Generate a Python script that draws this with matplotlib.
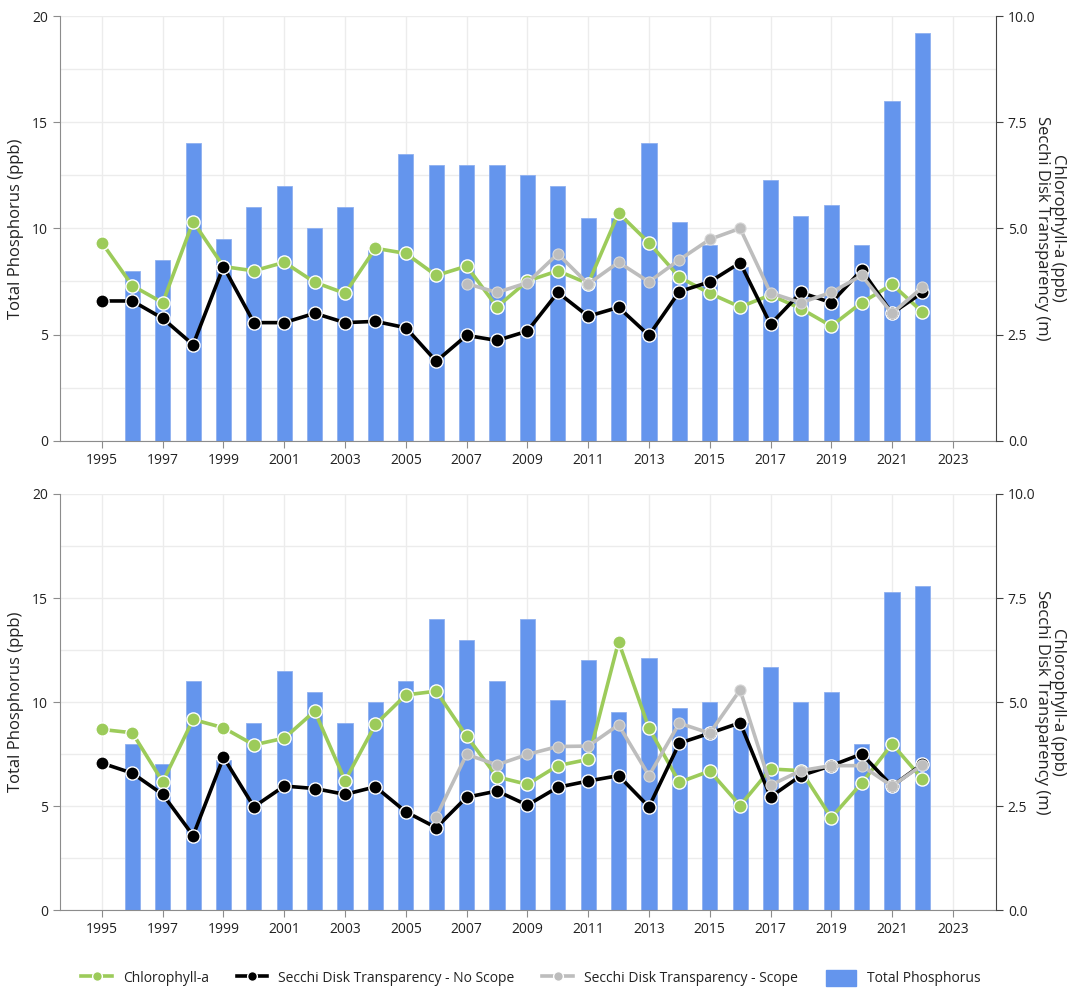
import numpy as np
import matplotlib
matplotlib.use("Agg")
import matplotlib.pyplot as plt
from matplotlib.lines import Line2D
from matplotlib.patches import Patch

plt.rcParams['font.family'] = ['Open Sans', 'DejaVu Sans']

nan = np.nan
years = np.arange(1995, 2023)

# top panel
tp_top = [nan, 8.0, 8.5, 14.0, 9.5, 11.0, 12.0, 10.0, 11.0, 9.0, 13.5, 13.0, 13.0, 13.0,
          12.5, 12.0, 10.5, 10.5, 14.0, 10.3, 9.2, 8.2, 12.3, 10.6, 11.1, 9.2, 16.0, 19.2]
chl_top = [4.66, 3.65, 3.25, 5.16, 4.1, 4.0, 4.2, 3.73, 3.47, 4.53, 4.41, 3.89, 4.11, 3.15,
           3.76, 4.0, 3.70, 5.36, 4.66, 3.85, 3.47, 3.15, 3.43, 3.11, 2.70, 3.25, 3.68, 3.03]
noscope_top = [3.29, 3.29, 2.88, 2.26, 4.10, 2.78, 2.78, 3.0, 2.78, 2.81, 2.66, 1.87, 2.48, 2.36,
               2.58, 3.49, 2.93, 3.14, 2.48, 3.51, 3.74, 4.19, 2.74, 3.49, 3.25, 4.02, 3.0, 3.49]
scope_top = [nan] * 12 + [3.70, 3.49, 3.72, 4.40, 3.69, 4.20, 3.74, 4.26, 4.74, 5.0,
                          3.48, 3.25, 3.49, 3.89, 3.0, 3.61]

# bottom panel
tp_bot = [nan, 8.0, 7.0, 11.0, 7.2, 9.0, 11.5, 10.5, 9.0, 10.0, 11.0, 14.0, 13.0, 11.0,
          14.0, 10.1, 12.0, 9.5, 12.1, 9.7, 10.0, 9.0, 11.7, 10.0, 10.5, 8.0, 15.3, 15.6]
chl_bot = [4.34, 4.26, 3.08, 4.58, 4.38, 3.97, 4.13, 4.78, 3.11, 4.46, 5.17, 5.26, 4.18, 3.20,
           3.02, 3.47, 3.62, 6.45, 4.37, 3.07, 3.34, 2.51, 3.39, 3.35, 2.22, 3.05, 3.99, 3.15]
noscope_bot = [3.53, 3.29, 2.78, 1.79, 3.67, 2.48, 2.98, 2.92, 2.78, 2.96, 2.36, 1.98, 2.71, 2.86,
               2.52, 2.95, 3.10, 3.23, 2.48, 4.01, 4.25, 4.50, 2.72, 3.23, 3.47, 3.75, 2.98, 3.51]
scope_bot = [nan] * 11 + [2.24, 3.74, 3.49, 3.74, 3.93, 3.94, 4.45, 3.23, 4.49, 4.25, 5.29,
                          3.0, 3.35, 3.47, 3.47, 2.98, 3.49]

blue = '#6495ed'
green = '#9ccb5a'
grey = '#bdbdbd'
axcol = '#8c8c8c'

W, H = 1073, 991
fig = plt.figure(figsize=(W / 100, H / 100), dpi=100)


def panel(top_px, bot_px, tp, chl, ns, sc):
    ax = fig.add_axes([60 / W, 1 - bot_px / H, 936 / W, (bot_px - top_px) / H])
    ax.bar(years, tp, width=0.5, color=blue, edgecolor='#8fb0f0', linewidth=0.6, zorder=2)
    ax.set_xlim(1993.62, 2024.42)
    ax.set_ylim(0, 20)
    ax.set_yticks([0, 5, 10, 15, 20])
    ax.set_yticks(np.arange(0, 20.1, 2.5), minor=True)
    ax.set_xticks(np.arange(1995, 2024, 2))
    ax.grid(True, which='both', axis='y', color='#ececec', lw=1, zorder=0)
    ax.grid(True, which='major', axis='x', color='#ececec', lw=1, zorder=0)
    ax.tick_params(which='minor', length=0)
    ax.tick_params(which='major', direction='out', length=5, color=axcol,
                   labelsize=10, labelcolor='#222222')
    for s in ['top', 'right']:
        ax.spines[s].set_visible(False)
    for s in ['left', 'bottom']:
        ax.spines[s].set_color(axcol)
    ax.set_ylabel('Total Phosphorus (ppb)', fontsize=12, color='#222222', labelpad=6)
    ax.set_axisbelow(True)

    ax2 = ax.twinx()
    ax2.set_ylim(0, 10)
    ax2.set_yticks([0, 2.5, 5, 7.5, 10])
    ax2.set_yticklabels(['0.0', '2.5', '5.0', '7.5', '10.0'])
    ax2.tick_params(direction='out', length=5, color='#444444', labelsize=10, labelcolor='#222222')
    for s in ['top', 'left', 'bottom']:
        ax2.spines[s].set_visible(False)
    ax2.spines['right'].set_color('#444444')
    ax2.set_ylabel('Chlorophyll-a (ppb)\nSecchi Disk Transparency (m)', rotation=270,
                   fontsize=12, color='#222222', linespacing=1.05, va='center', ha='center')
    ax2.yaxis.set_label_coords(1.0575, 0.5)

    kw = dict(lw=2.6, marker='o', markersize=9.5, markeredgecolor='white', markeredgewidth=1)
    ax2.plot(years, chl, color=green, markerfacecolor=green, zorder=3, **kw)
    ax2.plot(years, ns, color='black', markerfacecolor='black', zorder=4, **kw)
    ax2.plot(years, sc, color=grey, markerfacecolor=grey, zorder=5, lw=2.6, marker='o',
             markersize=8, markeredgecolor='#d8d8d8', markeredgewidth=0.8)
    return ax, ax2


panel(16, 440.7, tp_top, chl_top, noscope_top, scope_top)
panel(494, 910, tp_bot, chl_bot, noscope_bot, scope_bot)

handles = [
    Line2D([], [], color=green, lw=2.6, marker='o', markersize=7, markerfacecolor=green,
           markeredgecolor='white'),
    Line2D([], [], color='black', lw=2.6, marker='o', markersize=7, markerfacecolor='black',
           markeredgecolor='white'),
    Line2D([], [], color=grey, lw=2.6, marker='o', markersize=7, markerfacecolor=grey,
           markeredgecolor='white'),
    Patch(facecolor=blue, edgecolor=blue),
]
labels = ['Chlorophyll-a', 'Secchi Disk Transparency - No Scope',
          'Secchi Disk Transparency - Scope', 'Total Phosphorus']
fig.legend(handles, labels, loc='center', bbox_to_anchor=(0.495, 0.013), ncol=4,
           frameon=False, fontsize=10, handlelength=2.2, handleheight=1.4, columnspacing=2.0,
           handletextpad=0.8, labelcolor='#222222')

fig.savefig('out.png', dpi=100)
